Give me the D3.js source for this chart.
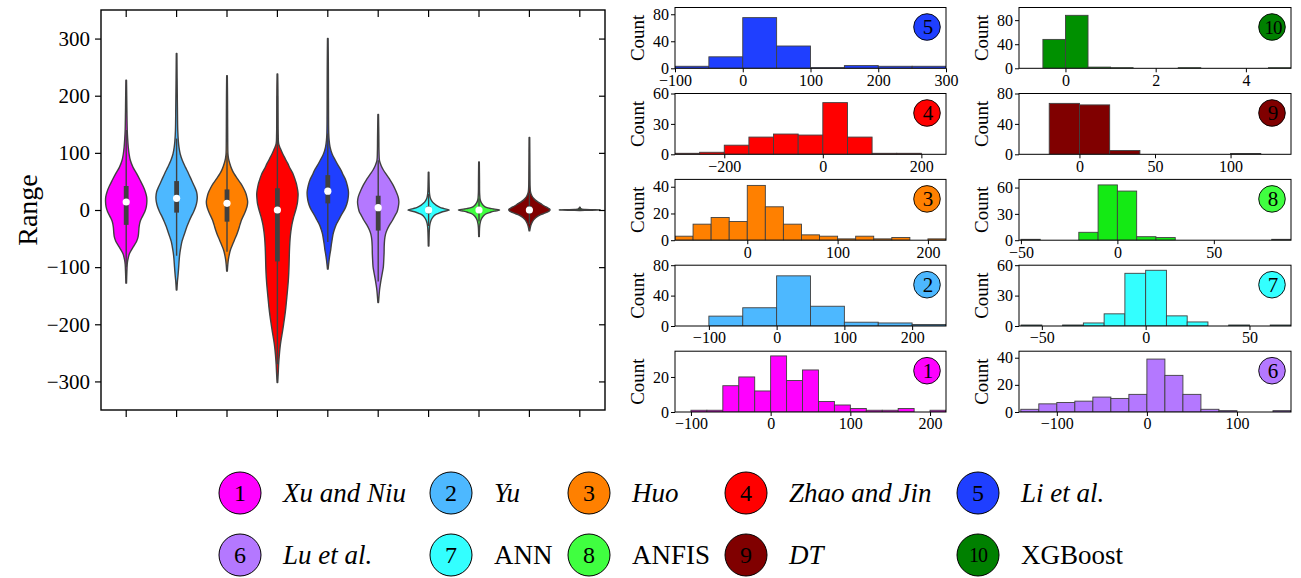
<!DOCTYPE html>
<html><head><meta charset="utf-8">
<script src="https://cdn.jsdelivr.net/npm/d3@7"></script>
<style>
body{margin:0;background:#fff}
svg{display:block}
text{font-family:"Liberation Serif","Times New Roman",serif;fill:#000}
</style>
</head><body>
<svg id="c" width="1301" height="578"></svg>
<script>
// ---------------- DATA ----------------
const modelIds = [1,2,3,4,5,6,7,8,9,10];
const modelNames = ["Xu and Niu","Yu","Huo","Zhao and Jin","Li et al.","Lu et al.","ANN","ANFIS","DT","XGBoost"];
const nameItalic = [true,true,true,true,true,true,false,false,true,false];
const modelColors = ["#ff00ff","#4db8ff","#ff8000","#ff0000","#1f3fff","#b478ff","#33ffff","#40ff40","#800000","#008000"];
const histColors  = ["#ff00ff","#4db8ff","#ff8000","#ff0000","#1f3fff","#b478ff","#33ffff","#14ea14","#800000","#009000"];

// violin density profiles: [value, relative density (0..20)]
const violin1 = [[-128,0.3],[-110,0.6],[-95,1.0],[-87,1.6],[-76,3.2],[-64,7],[-55,10],[-47,11.5],[-40,12],[-29,12.5],[-20,13.5],[-12,15.5],[-3,18],[6,19.5],[15,20],[23,19.8],[32,18.5],[41,16.5],[52,13.5],[64,10],[75,6.5],[87,4],[98,2.8],[110,2],[125,1.4],[140,1.0],[170,0.7],[200,0.5],[227,0.3]];
const violin2 = [[-140,0.3],[-125,0.8],[-116,1.3],[-100,2],[-85,2.6],[-75,3.2],[-64,4.2],[-55,5.2],[-47,6.6],[-38,8.3],[-29,10],[-20,12],[-12,14],[-3,16.5],[6,18.5],[15,19.7],[23,20],[32,19.3],[41,17.3],[52,14.5],[64,11.5],[75,8.5],[87,5.5],[98,3.5],[110,2.3],[120,1.7],[140,1.1],[180,0.8],[230,0.5],[274,0.3]];
const violin3 = [[-107,0.3],[-95,0.8],[-87,1.3],[-78,2.2],[-70,3.3],[-61,5.3],[-52,7.3],[-44,9.2],[-35,11],[-26,12.5],[-17.5,14],[-9,16.2],[0,18.3],[7,19.5],[14.5,20],[22,19.3],[29,18.3],[38,16],[46.5,13.3],[55,10],[64,6.7],[72,4.5],[81.5,2.7],[90,1.5],[99,0.9],[120,0.7],[160,0.6],[200,0.5],[235,0.3]];
const violin4 = [[-302,0.3],[-285,0.8],[-270,1.2],[-255,1.8],[-240,2.6],[-227,3.6],[-214,4.8],[-200,6],[-185,7.2],[-170,8.2],[-155,9],[-140,9.8],[-125,10.5],[-110,11],[-95,11.3],[-80,11.5],[-65,11.8],[-50,12.3],[-38,13],[-26,14],[-14,15.5],[-6,16.8],[3,18.2],[11.6,19.3],[20,19.8],[29,20],[38,19.3],[46.5,18.3],[55,16.8],[64,15],[72,12.5],[81.5,10],[90,7.5],[99,5],[108,2.8],[116,1.2],[130,0.8],[170,0.6],[210,0.5],[238,0.3]];
const violin5 = [[-103.5,0.3],[-95,0.8],[-87,1.3],[-78,2],[-70,2.8],[-61,3.4],[-52,4.2],[-43,5],[-35,6.2],[-26,8],[-17.5,10.5],[-9,13],[-3,15],[5,17.3],[14.5,19],[23,19.8],[32,20],[42,19],[52.4,17.3],[61,15],[70,12.7],[78,10],[87,7.3],[98,4.2],[110,2.2],[122,1.3],[134,0.9],[170,0.7],[220,0.6],[260,0.5],[300,0.3]];
const violin6 = [[-162,0.3],[-150,0.8],[-140,1.3],[-131,2],[-122,2.8],[-110,4],[-99,5],[-87,5.4],[-75,5.7],[-64,5.8],[-52,6.2],[-43,7],[-35,8.5],[-26,11],[-17.5,14],[-9,16.5],[-3,18.3],[6,19.5],[14.5,20],[23,19.3],[35,16.7],[44,14.3],[52,11.7],[61,8.3],[70,5],[78,2.8],[87,1.2],[100,0.8],[130,0.6],[167,0.3]];
const violin7 = [[-63,0.3],[-40,0.6],[-30,0.9],[-24,1.4],[-18,2.4],[-13,4],[-9,6],[-5.8,9.5],[-3,13.5],[0,20],[2.5,15],[4.7,11],[8,7.5],[11.6,5],[16,3],[22,1.5],[30,0.8],[45,0.5],[66,0.3]];
const violin8 = [[-46.5,0.3],[-30,0.6],[-23,1.1],[-17,2],[-11,4],[-7,6.5],[-4,11],[-2,15],[0,20],[1.5,15],[2.3,12.5],[4.5,7],[7,4.8],[12,2.5],[17.5,1.2],[30,0.6],[50,0.5],[84,0.3]];
const violin9 = [[-36.6,0.3],[-29,1.1],[-24,2],[-20.4,3],[-16,4.8],[-11.6,7.5],[-8,11],[-5.2,15.5],[-2,19],[0,20],[2,19.3],[4,17.5],[7,14.5],[11,11],[15,7.5],[19.8,4.5],[25,2.4],[31.4,1.1],[40,0.7],[70,0.5],[100,0.4],[127,0.3]];
const violin10 = [[-1,0.3],[-0.5,8],[-0.2,17],[0,20],[0.3,19],[0.6,12],[1,5],[1.5,2],[2.5,1],[3.5,0.6],[5,0.3]];
const violins = [violin1,violin2,violin3,violin4,violin5,violin6,violin7,violin8,violin9,violin10];

const boxQ1     = [-26, -4.6, -20.4, -90, 11.6, -36, -6, -5, -6, -0.2];
const boxQ3     = [42, 50.6, 36, 38, 61, 25, 6, 5, 7, 0.3];
const boxMedian = [14, 20.4, 11.6, 0, 33, 4, 0, 0, 0, null];
const whiskerLo = [-100, -80, -73, -270, -56, -125, -28, -20, -25, -0.5];
const whiskerHi = [140, 125, 100, 200, 134, 87, 28, 20, 30, 4.7];

const rangeTicks = [-300,-200,-100,0,100,200,300];

// histograms (counts per bin), indexed by model 1..10
const histCounts1  = [1,1,15,20,12,32,18,24,6,4,2,1,1,2,0,1];
const histCounts2  = [13,24,66,26,5,4,2];
const histCounts3  = [3,12,17,14,41,25,12,4,3,1,3,1,2,0,1];
const histCounts4  = [1,2,9,17,20,19,51,17,1,1];
const histCounts5  = [3,17,75,33,1,4,3,3];
const histCounts6  = [2,6,7,8,11,10,13,39,27,13,2,1,0,0,1];
const histCounts7  = [1,0,1,3,12,52,55,10,4,0,1,0,1];
const histCounts8  = [1,0,0,9,63,56,4,3,0,0,0,0,0,1];
const histCounts9  = [67,65,5,0,0,0,1,0];
const histCounts10 = [48,88,2,1,0,0,1,0,0,0,1];
const histCounts = [histCounts1,histCounts2,histCounts3,histCounts4,histCounts5,histCounts6,histCounts7,histCounts8,histCounts9,histCounts10];
const histBinStart = [-100,-100,-80,-300,-100,-140,-60,-50,-20,-0.5];
const histBinWidth = [20,50,20,50,50,20,10,10,20,0.5];
const histXDomain = [[-120,220],[-150,250],[-80,220],[-300,250],[-100,300],[-142,160],[-61,70],[-51,90],[-40,140],[-1.03,5]];
const histYMax = [34.7,80,45.5,60,90,44.8,60,69.3,80,101];
const histXTicks = [[-100,0,100,200],[-100,0,100,200],[0,100,200],[-200,0,200],[-100,0,100,200,300],[-100,0,100],[-50,0,50],[-50,0,50],[0,50,100],[0,2,4]];
const histYTicks = [[0,20],[0,40,80],[0,20,40],[0,30,60],[0,40,80],[0,20,40],[0,30,60],[0,30,60],[0,40,80],[0,40,80]];
const leftColumnModels  = [5,4,3,2,1];
const rightColumnModels = [10,9,8,7,6];

// ---------------- DRAW ----------------
const SERIF = '"Liberation Serif","Times New Roman",serif';
const svg = d3.select("#c");
const outline = "#404040";
const fmt = d3.format("d");

function styleAxis(g, size) {
  g.attr("font-family", null).attr("font-size", null);
  g.select(".domain").remove();
  g.selectAll(".tick line").attr("stroke", "#000");
  g.selectAll("text").style("font-family", SERIF).style("font-size", size).attr("fill", "#000");
}

// ---- violin plot ----
const vL = 101, vR = 605, vT = 10, vB = 410;
const x = d3.scaleBand().domain(modelIds).range([vL, vR]).padding(0);
const y = d3.scaleLinear().domain([-350, 350]).range([vB, vT]);
const halfMax = x.bandwidth() * 0.82 / 2;
const wScale = d3.scaleLinear().domain([0, 20]).range([0, halfMax]);

const gV = svg.append("g");
violins.forEach((prof, i) => {
  const cx = x(modelIds[i]) + x.bandwidth()/2;
  const area = d3.area()
    .y(d => y(d[0]))
    .x0(d => cx - wScale(d[1]))
    .x1(d => cx + wScale(d[1]))
    .curve(d3.curveCatmullRom.alpha(0.5));
  gV.append("path").datum(prof).attr("d", area)
    .attr("fill", modelColors[i]).attr("stroke", outline).attr("stroke-width", 1.4)
    .attr("stroke-linejoin","round");
  gV.append("line").attr("x1", cx).attr("x2", cx)
    .attr("y1", y(whiskerLo[i])).attr("y2", y(whiskerHi[i]))
    .attr("stroke", outline).attr("stroke-width", 1.4);
  gV.append("line").attr("x1", cx).attr("x2", cx)
    .attr("y1", y(boxQ1[i])).attr("y2", y(boxQ3[i]))
    .attr("stroke", outline).attr("stroke-width", 4.8);
  if (boxMedian[i] !== null) {
    gV.append("circle").attr("cx", cx).attr("cy", y(boxMedian[i])).attr("r", 3.6)
      .attr("fill", "#fff");
  }
});

const axL = svg.append("g").attr("transform", `translate(${vL},0)`)
  .call(d3.axisLeft(y).tickValues(rangeTicks).tickSize(6).tickSizeOuter(0).tickPadding(5));
const axR = svg.append("g").attr("transform", `translate(${vR},0)`)
  .call(d3.axisLeft(y).tickValues(rangeTicks).tickSize(6).tickSizeOuter(0).tickFormat(""));
const axB = svg.append("g").attr("transform", `translate(0,${vB})`)
  .call(d3.axisBottom(x).tickSize(7).tickSizeOuter(0).tickFormat(""));
const axT = svg.append("g").attr("transform", `translate(0,${vT})`)
  .call(d3.axisBottom(x).tickSize(7).tickSizeOuter(0).tickFormat(""));
[axL, axR, axB, axT].forEach(g => {
  styleAxis(g, "21px");
  g.selectAll(".tick line").attr("stroke-width", 1.2);
});
svg.append("rect").attr("x", vL).attr("y", vT).attr("width", vR - vL).attr("height", vB - vT)
  .attr("fill", "none").attr("stroke", "#000").attr("stroke-width", 1.4);
svg.append("text").attr("transform", `translate(37,${(vT + vB)/2}) rotate(-90)`)
  .attr("text-anchor", "middle").style("font-size", "28px").text("Range");

// ---- histograms ----
const colLeft = [[675, 946], [1019, 1291]];
const rowTops = [7.5, 93.5, 179.4, 265.2, 351.2];
const panelH = 60.8;

function drawHist(m, col, row) {
  const i = m - 1;
  const [L, R] = colLeft[col];
  const T = rowTops[row], B = T + panelH;
  const hx = d3.scaleLinear().domain(histXDomain[i]).range([L, R]);
  const hy = d3.scaleLinear().domain([0, histYMax[i]]).range([B, T]);
  const g = svg.append("g");
  const cid = "clip" + m;
  g.append("clipPath").attr("id", cid).append("rect")
    .attr("x", L).attr("y", T - 2).attr("width", R - L).attr("height", panelH + 2);
  const bars = g.append("g").attr("clip-path", `url(#${cid})`);
  histCounts[i].forEach((c, k) => {
    if (c <= 0) return;
    const x0 = histBinStart[i] + k * histBinWidth[i];
    const x1 = x0 + histBinWidth[i];
    bars.append("rect").attr("x", hx(x0)).attr("width", hx(x1) - hx(x0))
      .attr("y", hy(c)).attr("height", B - hy(c))
      .attr("fill", histColors[i]).attr("stroke", "#404040").attr("stroke-width", 0.9);
  });
  const ay = g.append("g").attr("transform", `translate(${L},0)`)
    .call(d3.axisLeft(hy).tickValues(histYTicks[i]).tickSize(4).tickSizeOuter(0).tickPadding(2).tickFormat(fmt));
  const ax = g.append("g").attr("transform", `translate(0,${B})`)
    .call(d3.axisBottom(hx).tickValues(histXTicks[i]).tickSize(4).tickSizeOuter(0).tickPadding(2).tickFormat(fmt));
  [ay, ax].forEach(a => styleAxis(a, "16px"));
  g.append("rect").attr("x", L).attr("y", T).attr("width", R - L).attr("height", panelH)
    .attr("fill", "none").attr("stroke", "#000").attr("stroke-width", 1);
  g.append("text").attr("transform", `translate(${L - 31},${(T + B)/2}) rotate(-90)`)
    .attr("text-anchor", "middle").style("font-size", "19px").text("Count");
  const bx = R - 19, by = T + 19.5;
  g.append("circle").attr("cx", bx).attr("cy", by).attr("r", 13.3)
    .attr("fill", modelColors[i]).attr("stroke", "#000").attr("stroke-width", 0.9);
  g.append("text").attr("x", bx + 1).attr("y", by).attr("dy", "0.35em")
    .attr("text-anchor", "middle").style("font-size", m === 10 ? "19px" : "21px")
    .style("letter-spacing", m === 10 ? "-1px" : null).text(m);
}
leftColumnModels.forEach((m, r) => drawHist(m, 0, r));
rightColumnModels.forEach((m, r) => drawHist(m, 1, r));

// ---- legend ----
const legCircleX = [240, 451, 589, 746, 978];
const legRowY = [493, 555];
const legG = svg.append("g");
modelIds.forEach((m, i) => {
  const row = Math.floor(i / 5), col = i % 5;
  const cx = legCircleX[col], cy = legRowY[row];
  legG.append("circle").attr("cx", cx).attr("cy", cy).attr("r", 21)
    .attr("fill", modelColors[i]).attr("stroke", "#000").attr("stroke-width", 1);
  legG.append("text").attr("x", cx).attr("y", cy).attr("dy", "0.35em")
    .attr("text-anchor", "middle").style("font-size", m === 10 ? "20px" : "24px")
    .style("letter-spacing", m === 10 ? "-1px" : null).text(m);
  legG.append("text").attr("x", cx + 43).attr("y", cy).attr("dy", "0.33em")
    .style("font-size", "27px").style("font-style", nameItalic[i] ? "italic" : "normal")
    .text(modelNames[i]);
});
</script>
</body></html>
